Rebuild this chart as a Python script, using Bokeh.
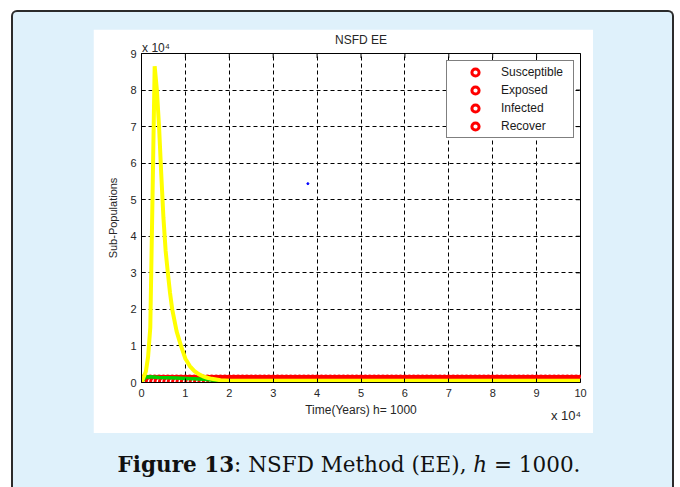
from math import pi
from bokeh.plotting import figure
from bokeh.models import (Range1d, FixedTicker, Legend, LegendItem, LinearAxis, Div)
from bokeh.layouts import column
from bokeh.embed import file_html
from bokeh.resources import INLINE

# ---------------- data (values in units of 10^4) ----------------
x_ticks = [0, 1, 2, 3, 4, 5, 6, 7, 8, 9, 10]
y_ticks = [0, 1, 2, 3, 4, 5, 6, 7, 8, 9]
multiplier = "x 10\u2074"

# time grid of the NSFD scheme, h = 1000 (0.1 x 10^4)
t_grid = [round(0.1 * k, 1) for k in range(101)]

# marker series (all lie on the bottom of the chart)
legend_names = ["Susceptible", "Exposed", "Infected", "Recover"]
marker_levels = [0.07, 0.055, 0.04, 0.025]

# yellow curve
t_yellow = [0.0, 0.1, 0.15, 0.2, 0.25, 0.3, 0.35, 0.4, 0.45, 0.5, 0.55, 0.6,
            0.65, 0.7, 0.8, 0.9, 1.0, 1.1, 1.2, 1.3, 1.4, 1.5, 1.6, 1.7, 1.8,
            2.0, 3.0, 4.0, 5.0, 6.0, 7.0, 8.0, 9.0, 10.0]
v_yellow = [0.0, 0.3, 0.7, 1.5, 5.0, 8.65, 8.0, 7.0, 5.7, 4.5, 3.6, 3.0,
            2.45, 2.0, 1.4, 1.0, 0.65, 0.45, 0.32, 0.23, 0.17, 0.13, 0.1, 0.08,
            0.06, 0.05, 0.045, 0.045, 0.045, 0.045, 0.045, 0.045, 0.045, 0.045]

# green curve
t_green = [0.0, 0.1, 0.2, 0.4, 0.6, 0.8, 1.0, 1.2, 1.4, 1.6, 1.8, 2.0]
v_green = [0.02, 0.15, 0.16, 0.14, 0.13, 0.12, 0.11, 0.1, 0.09, 0.07, 0.05, 0.04]

# stray blue point
t_blue = [3.79]
v_blue = [5.44]

# where the "x 10^4" multipliers sit along the x axis
mult_top_x = 0.33
mult_bottom_x = 9.67

FONT = "Liberation Sans"
TXT = "#262626"

p = figure(width=500, height=404, x_range=Range1d(0, 10), y_range=Range1d(0, 9),
           output_backend="svg", toolbar_location=None,
           min_border_left=48, min_border_right=13, min_border_top=24,
           min_border_bottom=51, border_fill_color="white",
           background_fill_color="white", outline_line_color="black",
           margin=(17, 0, 0, 80))

# grid
for g in (p.xgrid, p.ygrid):
    g.grid_line_color = "black"
    g.grid_line_dash = "4 3"
    g.grid_line_width = 1
p.xgrid.ticker = FixedTicker(ticks=x_ticks)
p.ygrid.ticker = FixedTicker(ticks=y_ticks)

# axes
for ax, ticks in ((p.xaxis[0], x_ticks), (p.yaxis[0], y_ticks)):
    ax.ticker = FixedTicker(ticks=ticks)
    ax.major_tick_in = 4
    ax.major_tick_out = 0
    ax.minor_tick_line_color = None
    ax.axis_line_color = "black"
    ax.major_tick_line_color = "black"
    ax.major_label_text_font = FONT
    ax.major_label_text_font_size = "11px"
    ax.major_label_text_color = TXT
    ax.axis_label_text_font = FONT
    ax.axis_label_text_font_style = "normal"
    ax.axis_label_text_color = TXT
p.xaxis.major_label_standoff = 6
p.yaxis.major_label_standoff = 5
p.xaxis.axis_label = "Time(Years) h= 1000"
p.yaxis.axis_label = "Sub-Populations"
p.xaxis.axis_label_text_font_size = "12px"
p.yaxis.axis_label_text_font_size = "11px"
p.xaxis.axis_label_standoff = 3
p.yaxis.axis_label_standoff = 8


def text_axis(tick, label, standoff, size, axis_label=None, label_standoff=0):
    ax = LinearAxis(ticker=FixedTicker(ticks=[tick]),
                    major_label_overrides={tick: label})
    ax.axis_line_color = None
    ax.major_tick_line_color = None
    ax.minor_tick_line_color = None
    ax.major_tick_in = 0
    ax.major_tick_out = 0
    ax.major_label_standoff = standoff
    ax.major_label_text_font = FONT
    ax.major_label_text_font_size = size
    ax.major_label_text_color = TXT
    if axis_label is not None:
        ax.axis_label = axis_label
        ax.axis_label_standoff = label_standoff
        ax.axis_label_text_font = FONT
        ax.axis_label_text_font_size = "12px"
        ax.axis_label_text_font_style = "normal"
        ax.axis_label_text_color = TXT
    return ax


# top: multiplier at the left, title centred above it
p.add_layout(text_axis(mult_top_x, multiplier, -1, "12px",
                       axis_label="NSFD EE", label_standoff=-9), "above")
# bottom right multiplier
p.add_layout(text_axis(mult_bottom_x, multiplier, -12, "13px"), "below")

# inward ticks on the top and right edges of the box (half clipped by frame)
p.scatter(x=x_ticks, y=[y_ticks[-1]] * len(x_ticks), marker="dash", angle=pi / 2,
          size=9, line_color="black", line_width=1)
p.scatter(x=[x_ticks[-1]] * len(y_ticks), y=y_ticks, marker="dash",
          size=9, line_color="black", line_width=1)

# marker series (red rings)
marker_renderers = []
for lvl in marker_levels:
    r = p.scatter(x=t_grid, y=[lvl] * len(t_grid), marker="circle", size=8,
                  fill_color="white", line_color="red", line_width=3)
    marker_renderers.append(r)

p.line(t_green, v_green, line_color="#00d000", line_width=3.5)
p.line(t_yellow, v_yellow, line_color="yellow", line_width=4)
p.scatter(t_blue, v_blue, size=2, color="blue")

legend = Legend(items=[LegendItem(label=n, renderers=[r])
                       for n, r in zip(legend_names, marker_renderers)],
                location=(305, 244), padding=2, spacing=0, margin=0,
                glyph_width=52, glyph_height=18, label_height=18,
                label_width=70, label_standoff=0,
                label_text_font=FONT, label_text_font_size="12px",
                label_text_color="#1a1a1a", border_line_color="black",
                border_line_width=1, background_fill_color="white",
                background_fill_alpha=1)
p.add_layout(legend)

cap = Div(text='<b>Figure 13</b>: NSFD Method (EE), <i>h</i> = 1000.',
          width=560, margin=(17, 0, 0, 56),
          styles={"font-family": "DejaVu Serif", "font-size": "21.5px",
                  "color": "#111111", "text-align": "center",
                  "white-space": "nowrap"})

root = column(p, cap, width=663, height=477, margin=(10, 0, 0, 11),
              styles={"background-color": "#dff1fb",
                      "border": "2px solid #2b2b2b",
                      "border-bottom": "none",
                      "border-radius": "6px 6px 0 0",
                      "box-sizing": "border-box"})

open("out.html", "w").write(file_html(root, INLINE))
